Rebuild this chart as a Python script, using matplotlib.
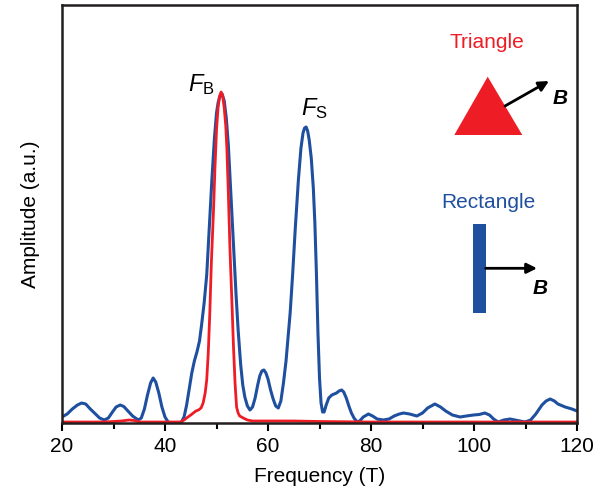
import matplotlib
matplotlib.use('Agg')
import matplotlib.pyplot as plt
from matplotlib.patches import Polygon, Rectangle

plt.rcParams['font.family'] = ['Liberation Sans', 'DejaVu Sans']
plt.rcParams['mathtext.fontset'] = 'custom'
plt.rcParams['mathtext.rm'] = 'Liberation Sans'
plt.rcParams['mathtext.it'] = 'Liberation Sans:italic'
plt.rcParams['mathtext.bf'] = 'Liberation Sans:bold'

# Rectangle sample (blue) spectrum
rect_freq = [20, 21, 22, 23, 23.8, 24.6, 25.5, 26.5, 27.3, 28.2, 29, 29.8, 30.5, 31.3,
             32, 32.8, 33.7, 34.8, 35.4, 36, 36.6, 37.2, 37.7, 38.2, 38.8, 39.4, 40,
             40.6, 41.5, 42.5, 43.2, 43.7, 44.2, 44.7, 45.2, 45.7, 46.2, 46.7, 47.1,
             47.6, 48.1, 48.6, 49.1, 49.6, 50.0, 50.3, 50.6, 51.1, 51.5, 51.9, 52.3,
             52.8, 53.3, 53.8, 54.2, 54.7, 55.1, 55.5, 56.0, 56.5, 57.0, 57.5, 58.0,
             58.4, 58.8, 59.2, 59.6, 60.0, 60.5, 61.0, 61.5, 62.0, 62.5, 63.0, 63.5,
             64.0, 64.3, 64.8, 65.3, 65.9, 66.4, 66.8, 67.1, 67.4, 67.7, 68.0, 68.4,
             68.8, 69.1, 69.4, 69.7, 70.0, 70.3, 70.6, 70.9, 71.3, 71.8, 72.4, 73.3,
             73.8, 74.3, 74.7, 75.2, 75.7, 76.2, 76.7, 77.3, 77.8, 78.5, 79.5, 80.3,
             81.2, 82.4, 83.5, 84.5, 85.5, 86.3, 87.5, 88.9, 90, 91, 92.4, 93.5, 94.5,
             95.8, 97.3, 98.5, 99.9, 101, 102.1, 103, 103.8, 104.7, 105.8, 107, 108,
             109.9, 111, 112, 113.2, 114, 114.8, 115.6, 116.3, 117.7, 119, 120]
rect_amp = [6, 9, 14, 18, 20, 19, 14, 9, 5, 3, 5, 11, 16, 18,
            16.5, 12, 7, 3, 5, 14, 28, 40, 45, 41, 30, 16, 6,
            1, 0, 0, 1, 6, 18, 34, 50, 62, 71, 82, 98,
            120, 148, 195, 243, 285, 310, 320, 326, 329, 322, 305, 278,
            228, 176, 128, 93, 58, 38, 26, 17, 13, 16, 25, 38,
            47, 52, 53, 50, 44, 33, 24, 17, 15, 22, 40, 62,
            92, 110, 150, 195, 243, 275, 290, 295, 296, 292, 283, 265,
            235, 200, 150, 90, 45, 20, 11, 11, 18, 25, 28, 30,
            32, 33, 31, 25, 17, 10, 5, 1, 2, 6, 9, 7,
            4, 3, 4, 7, 9, 10, 9, 7, 10, 15, 19, 16, 12,
            8, 6, 7, 8, 8.5, 10, 8, 4, 1, 3, 4, 3,
            1, 3, 9, 18, 22, 24, 22, 19, 16, 14, 12]

# Triangle sample (red) spectrum
tri_freq = [20, 25, 28, 30, 31.5, 33, 34, 35, 40, 43, 43.7, 44.2, 45, 45.5, 46, 46.5,
            47, 47.4, 47.8, 48.1, 48.4, 48.7, 49.0, 49.4, 49.7, 50.0, 50.3, 50.6,
            50.9, 51.2, 51.5, 51.8, 52.0, 52.3, 52.6, 53.0, 53.3, 53.6, 53.9, 54.2,
            54.5, 55.2, 56, 57, 60, 65, 70, 80, 90, 100, 110, 120]
tri_amp = [1, 1, 1, 1.5, 2, 3, 2.5, 1, 1, 1, 3, 5, 8, 10, 12, 13,
           15, 20, 30, 43, 70, 110, 160, 210, 255, 293, 315, 327,
           331, 327, 315, 297, 276, 230, 176, 120, 76, 40, 16, 10,
           7, 5, 3, 2, 2, 2, 1.5, 1, 1, 1, 1, 1]

blue = '#1f4f9f'
red = '#ee1c25'

fig = plt.figure(figsize=(5.95, 5.0), dpi=100)
ax = fig.add_axes([62/595, 1-423/500, 515/595, 418/500])

ax.plot(rect_freq, rect_amp, color=blue, lw=2.2)
ax.plot(tri_freq, tri_amp, color=red, lw=2.0)

ax.set_xlim(20, 120)
ax.set_ylim(0, 418)
ax.set_xticks([20, 40, 60, 80, 100, 120])
ax.set_xticks([30, 50, 70, 90, 110], minor=True)
ax.set_yticks([])
ax.tick_params(axis='x', which='major', direction='out', length=6, width=1.5, labelsize=15, pad=4)
ax.tick_params(axis='x', which='minor', direction='out', length=4, width=1.5)
for s in ax.spines.values():
    s.set_linewidth(1.8)
    s.set_color('#231f20')
ax.set_xlabel('Frequency (T)', fontsize=15, labelpad=8)
ax.set_ylabel('Amplitude (a.u.)', fontsize=15, labelpad=16)


def px(x, y):
    # pixel position in the picture -> data coordinates
    return 20 + (x - 62) / 5.15, 423 - y


ax.text(*px(201, 85), r'$F_{\mathrm{B}}$', fontsize=17, ha='center', va='center')
ax.text(*px(314, 109), r'$F_{\mathrm{S}}$', fontsize=17, ha='center', va='center')

# Triangle inset
ax.text(*px(487, 42), 'Triangle', color=red, fontsize=15, ha='center', va='center')
ax.add_patch(Polygon([px(487.7, 76.7), px(454.3, 135), px(522.3, 135)],
                     closed=True, color=red, lw=0))
ax.annotate('', xy=px(549, 81), xytext=px(505, 106),
            arrowprops=dict(arrowstyle='-|>,head_length=0.6,head_width=0.3',
                            color='black', lw=2, shrinkA=0, shrinkB=0))
ax.text(*px(560, 99), 'B', fontsize=15, fontweight='bold', fontstyle='italic',
        ha='center', va='center')

# Rectangle inset
ax.text(*px(488, 202), 'Rectangle', color=blue, fontsize=15, ha='center', va='center')
x0, y0 = px(473.3, 312.7)
x1, y1 = px(485.7, 224)
ax.add_patch(Rectangle((x0, y0), x1 - x0, y1 - y0, color=blue, lw=0))
ax.annotate('', xy=px(537, 268.3), xytext=px(485.7, 268.3),
            arrowprops=dict(arrowstyle='-|>,head_length=0.6,head_width=0.3',
                            color='black', lw=2, shrinkA=0, shrinkB=0))
ax.text(*px(540, 288), 'B', fontsize=15, fontweight='bold', fontstyle='italic',
        ha='center', va='center')

fig.savefig('out.png', dpi=100)
